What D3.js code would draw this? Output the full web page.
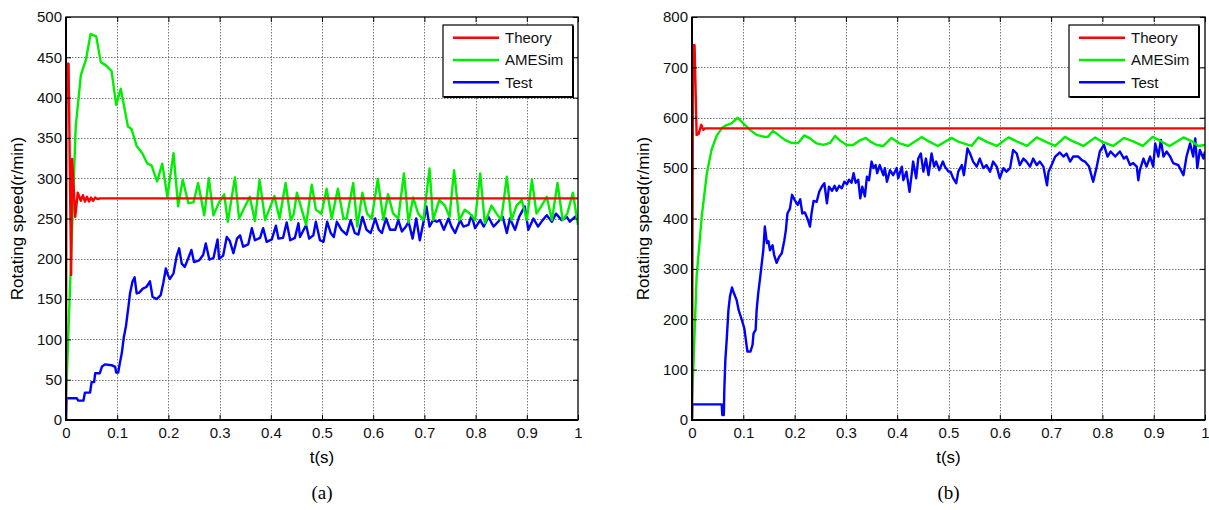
<!DOCTYPE html>
<html>
<head>
<meta charset="utf-8">
<script src="https://cdn.jsdelivr.net/npm/d3@7/dist/d3.min.js"></script>
<style>
  html, body { margin: 0; padding: 0; background: #fff; }
  svg { display: block; }
  .tick text { font-family: "Liberation Sans", Arial, sans-serif; font-size: 15px; fill: #111; }
</style>
</head>
<body>
<svg id="chart" width="1209" height="510"></svg>
<script>
// ---- data: rotating speed (r/min) against time (s) ----
const seriesNames = ["Theory", "AMESim", "Test"];
const seriesColors = ["#ff0000", "#00ee00", "#0000ff"];
const xTicks = [0, 0.1, 0.2, 0.3, 0.4, 0.5, 0.6, 0.7, 0.8, 0.9, 1];
const xTickLabels = ["0", "0.1", "0.2", "0.3", "0.4", "0.5", "0.6", "0.7", "0.8", "0.9", "1"];
const yTicksA = [0, 50, 100, 150, 200, 250, 300, 350, 400, 450, 500];
const yTicksB = [0, 100, 200, 300, 400, 500, 600, 700, 800];

// (a)
const theoryA = [[0,0],[0.001,442],[0.005,442],[0.010,180],[0.012,324],[0.018,252],[0.023,282],
  [0.029,272],[0.033,279],[0.037,271],[0.041,277],[0.045,271],[0.049,276],[0.053,272],[0.057,276],
  [0.062,274],[0.066,275],[1,275]];

const amesimA = [[0,25],[0.019,364],[0.029,428],[0.039,447],[0.048,479],[0.059,476],[0.068,444],
  [0.078,440],[0.089,433],[0.098,391],[0.107,411],[0.121,364],[0.128,361],[0.138,340],[0.149,331],
  [0.159,318],[0.167,316],[0.178,296],[0.188,318],[0.198,277],[0.210,331],[0.219,265],[0.228,298],
  [0.239,269],[0.249,270],[0.258,294],[0.270,254],[0.279,300],[0.288,254],[0.299,270],[0.309,280],
  [0.316,246],[0.330,301],[0.338,250],[0.359,277],[0.369,247],[0.378,298],[0.389,248],[0.407,278],
  [0.417,250],[0.429,294],[0.439,248],[0.445,256],[0.451,282],[0.469,242],[0.480,292],[0.488,261],
  [0.499,256],[0.509,287],[0.519,250],[0.531,287],[0.542,250],[0.548,250],[0.561,294],[0.569,240],
  [0.579,282],[0.588,256],[0.597,250],[0.609,299],[0.620,248],[0.629,280],[0.639,256],[0.649,250],
  [0.660,306],[0.669,245],[0.678,276],[0.688,256],[0.698,248],[0.710,312],[0.717,248],[0.729,273],
  [0.740,266],[0.749,252],[0.758,310],[0.768,248],[0.779,261],[0.789,256],[0.799,248],[0.809,306],
  [0.818,244],[0.831,266],[0.841,256],[0.850,248],[0.861,302],[0.870,248],[0.880,266],[0.890,273],
  [0.900,248],[0.910,298],[0.919,256],[0.929,266],[0.939,277],[0.949,248],[0.960,294],[0.970,248],
  [0.979,256],[0.990,282],[1.0,242]];

const testA = [[0,0],[0.001,27],[0.021,27],[0.024,24],[0.034,24],[0.037,34],[0.047,34],[0.050,47],
  [0.055,47],[0.057,58],[0.066,58],[0.070,66],[0.076,69],[0.089,68],[0.096,66],[0.098,59],[0.102,59],
  [0.105,70],[0.109,83],[0.113,103],[0.117,116],[0.122,141],[0.125,157],[0.130,172],[0.134,177],
  [0.138,157],[0.143,158],[0.150,163],[0.157,165],[0.164,172],[0.169,153],[0.177,150],[0.185,155],
  [0.190,170],[0.195,188],[0.199,180],[0.203,175],[0.210,182],[0.216,203],[0.221,213],[0.226,194],
  [0.232,190],[0.239,201],[0.245,211],[0.250,196],[0.260,198],[0.268,205],[0.273,219],[0.280,199],
  [0.288,201],[0.296,224],[0.299,200],[0.307,204],[0.314,227],[0.320,222],[0.327,207],[0.334,225],
  [0.340,229],[0.346,215],[0.356,218],[0.363,238],[0.369,223],[0.379,226],[0.385,238],[0.392,221],
  [0.402,224],[0.410,241],[0.415,225],[0.424,226],[0.431,245],[0.438,223],[0.447,226],[0.454,244],
  [0.457,227],[0.469,242],[0.475,225],[0.483,229],[0.488,246],[0.496,223],[0.503,221],[0.510,246],
  [0.517,232],[0.523,227],[0.529,246],[0.538,236],[0.548,230],[0.556,248],[0.564,232],[0.571,230],
  [0.579,252],[0.587,236],[0.595,232],[0.604,250],[0.611,236],[0.617,232],[0.625,250],[0.633,236],
  [0.643,236],[0.649,248],[0.656,234],[0.664,240],[0.669,246],[0.677,225],[0.684,250],[0.691,223],
  [0.699,248],[0.704,265],[0.710,240],[0.717,248],[0.724,246],[0.730,248],[0.738,236],[0.747,250],
  [0.753,240],[0.760,232],[0.770,248],[0.776,240],[0.786,242],[0.792,254],[0.799,238],[0.809,248],
  [0.816,240],[0.825,252],[0.835,240],[0.844,246],[0.853,252],[0.861,232],[0.867,250],[0.877,236],
  [0.885,252],[0.896,265],[0.903,236],[0.913,250],[0.922,240],[0.931,248],[0.939,254],[0.949,246],
  [0.957,256],[0.968,248],[0.978,252],[0.984,246],[0.994,252],[1.0,254]];

// (b)
const theoryB = [[0,0],[0.002,744],[0.005,744],[0.009,566],[0.013,568],[0.018,586],[0.022,576],
  [0.026,579],[1,579]];

const amesimB = [[0,33],[0.009,285],[0.019,404],[0.029,490],[0.038,536],[0.048,564],[0.058,579],
  [0.068,586],[0.077,589],[0.089,600],[0.100,589],[0.113,576],[0.126,566],[0.142,562],[0.148,562],
  [0.158,574],[0.168,566],[0.181,556],[0.194,550],[0.207,550],[0.219,565],[0.230,559],[0.243,549],
  [0.256,546],[0.269,550],[0.279,564],[0.288,555],[0.302,546],[0.314,546],[0.327,555],[0.339,560],
  [0.347,553],[0.360,546],[0.373,544],[0.389,560],[0.405,549],[0.421,544],[0.448,562],[0.460,554],
  [0.479,544],[0.506,560],[0.520,552],[0.545,544],[0.558,561],[0.575,552],[0.594,544],[0.617,561],
  [0.633,553],[0.653,544],[0.672,561],[0.690,552],[0.708,544],[0.727,562],[0.741,554],[0.763,544],
  [0.786,561],[0.800,552],[0.821,544],[0.842,560],[0.860,553],[0.879,544],[0.898,562],[0.915,553],
  [0.931,544],[0.958,561],[0.975,553],[0.987,544],[1.0,546]];

const testB = [[0,3],[0.0005,31],[0.058,31],[0.059,10],[0.062,10],[0.063,60],[0.065,119],[0.068,165],
  [0.071,218],[0.074,245],[0.078,263],[0.082,251],[0.087,238],[0.091,218],[0.097,199],[0.102,182],
  [0.105,159],[0.108,136],[0.114,136],[0.118,149],[0.120,172],[0.124,179],[0.126,218],[0.129,251],
  [0.133,284],[0.136,311],[0.139,337],[0.142,384],[0.146,351],[0.149,355],[0.152,337],[0.157,347],
  [0.160,328],[0.165,312],[0.170,324],[0.175,331],[0.180,357],[0.183,377],[0.186,410],[0.191,420],
  [0.195,447],[0.200,437],[0.206,427],[0.211,438],[0.215,410],[0.220,412],[0.225,400],[0.230,384],
  [0.233,410],[0.237,435],[0.243,433],[0.248,453],[0.253,463],[0.258,470],[0.263,430],[0.267,463],
  [0.273,455],[0.278,465],[0.282,455],[0.287,465],[0.292,460],[0.297,473],[0.302,468],[0.306,477],
  [0.311,471],[0.315,490],[0.319,471],[0.324,477],[0.328,440],[0.332,463],[0.337,444],[0.341,483],
  [0.345,476],[0.350,513],[0.354,500],[0.358,506],[0.361,490],[0.366,506],[0.373,486],[0.376,500],
  [0.380,473],[0.386,496],[0.392,486],[0.399,500],[0.402,480],[0.409,503],[0.412,476],[0.418,493],
  [0.424,453],[0.428,486],[0.431,513],[0.437,480],[0.441,519],[0.446,529],[0.451,493],[0.456,519],
  [0.461,486],[0.467,529],[0.472,503],[0.476,513],[0.482,496],[0.489,513],[0.493,503],[0.500,493],
  [0.504,493],[0.509,480],[0.515,470],[0.519,493],[0.526,506],[0.530,486],[0.537,539],[0.542,529],
  [0.548,513],[0.555,503],[0.561,519],[0.568,500],[0.574,506],[0.581,493],[0.587,513],[0.594,503],
  [0.600,480],[0.607,500],[0.613,493],[0.620,500],[0.626,536],[0.633,529],[0.639,506],[0.646,519],
  [0.652,513],[0.659,503],[0.665,519],[0.672,506],[0.678,513],[0.685,503],[0.692,466],[0.695,493],
  [0.701,506],[0.708,523],[0.717,531],[0.724,523],[0.730,529],[0.737,513],[0.743,523],[0.753,523],
  [0.760,516],[0.766,513],[0.774,503],[0.782,473],[0.789,503],[0.795,533],[0.803,546],[0.810,523],
  [0.816,533],[0.825,523],[0.834,533],[0.842,519],[0.847,523],[0.854,506],[0.860,510],[0.867,503],
  [0.870,476],[0.873,496],[0.880,519],[0.886,503],[0.893,523],[0.899,503],[0.903,549],[0.909,523],
  [0.914,556],[0.919,523],[0.925,533],[0.932,523],[0.938,510],[0.948,506],[0.958,486],[0.964,523],
  [0.971,549],[0.977,523],[0.981,559],[0.985,500],[0.990,536],[0.997,519],[1.0,533]];

// ---- layout of the two panels ----
const panels = [
  { key: "a", left: 66, top: 17, width: 512, height: 403, yMax: 500, yTicks: yTicksA,
    series: [theoryA, amesimA, testA], legend: { x: 443, y: 25, w: 130, h: 72 }, caption: "(a)" },
  { key: "b", left: 692, top: 17, width: 513, height: 403, yMax: 800, yTicks: yTicksB,
    series: [theoryB, amesimB, testB], legend: { x: 1069, y: 25, w: 130, h: 72 }, caption: "(b)" }
];

const svg = d3.select("#chart");
const sans = "'Liberation Sans', Arial, sans-serif";

panels.forEach(p => {
  const x = d3.scaleLinear().domain([0, 1]).range([0, p.width]);
  const y = d3.scaleLinear().domain([0, p.yMax]).range([p.height, 0]);
  const g = svg.append("g").attr("transform", `translate(${p.left},${p.top})`);

  g.append("defs").append("clipPath").attr("id", "clip-" + p.key)
    .append("rect").attr("x", 0).attr("y", -2).attr("width", p.width).attr("height", p.height + 2);

  // dotted grid
  const grid = g.append("g").attr("stroke", "#555").attr("stroke-width", 0.8)
    .attr("stroke-dasharray", "1.5,1.5");
  grid.selectAll(".gx").data(xTicks.slice(1, -1)).join("line")
    .attr("x1", d => Math.round(x(d)) + 0.5).attr("x2", d => Math.round(x(d)) + 0.5)
    .attr("y1", 0).attr("y2", p.height);
  grid.selectAll(".gy").data(p.yTicks.slice(1, -1)).join("line")
    .attr("y1", d => Math.round(y(d)) + 0.5).attr("y2", d => Math.round(y(d)) + 0.5)
    .attr("x1", 0).attr("x2", p.width);

  // series
  const line = d3.line().x(d => x(d[0])).y(d => y(d[1]));
  const plot = g.append("g").attr("clip-path", `url(#clip-${p.key})`);
  // draw Test first, then AMESim, then Theory on top
  [2, 1, 0].forEach(i => {
    plot.append("path").datum(p.series[i])
      .attr("fill", "none").attr("stroke", seriesColors[i])
      .attr("stroke-width", 2.4).attr("stroke-linejoin", "round")
      .attr("d", line);
  });

  // axes with inward ticks on all four sides
  const fmt = (d) => xTickLabels[xTicks.indexOf(d)];
  const bottom = g.append("g").attr("transform", `translate(0,${p.height})`)
    .call(d3.axisBottom(x).tickValues(xTicks).tickFormat(fmt).tickSize(-5).tickPadding(7));
  const left = g.append("g")
    .call(d3.axisLeft(y).tickValues(p.yTicks).tickFormat(d3.format("d")).tickSize(-5).tickPadding(4));
  const top = g.append("g")
    .call(d3.axisTop(x).tickValues(xTicks).tickFormat("").tickSize(-5));
  const right = g.append("g").attr("transform", `translate(${p.width},0)`)
    .call(d3.axisRight(y).tickValues(p.yTicks).tickFormat("").tickSize(-5));
  [bottom, left, top, right].forEach(a => {
    a.select(".domain").remove();
    a.selectAll(".tick line").attr("stroke", "#000").attr("stroke-width", 1);
  });
  bottom.selectAll("text").style("font-family", sans).style("font-size", "15px");
  left.selectAll("text").style("font-family", sans).style("font-size", "15px");

  // frame
  g.append("rect").attr("x", 0).attr("y", 0).attr("width", p.width).attr("height", p.height)
    .attr("fill", "none").attr("stroke", "#000").attr("stroke-width", 1.3);
  g.append("path").attr("d", `M0,0V${p.height}H${p.width}`)
    .attr("fill", "none").attr("stroke", "#000").attr("stroke-width", 2);

  // axis titles
  g.append("text").attr("x", p.width / 2).attr("y", 446)
    .attr("text-anchor", "middle").style("font-family", sans).style("font-size", "17px")
    .text("t(s)");
  g.append("text")
    .attr("transform", `translate(-43,${p.height / 2}) rotate(-90)`)
    .attr("text-anchor", "middle").style("font-family", sans).style("font-size", "17px")
    .text("Rotating speed(r/min)");

  // caption under the panel
  g.append("text").attr("x", p.width / 2).attr("y", 482)
    .attr("text-anchor", "middle").style("font-family", "'Liberation Serif', 'Times New Roman', serif")
    .style("font-size", "19px").text(p.caption);

  // legend
  const L = p.legend;
  const lg = svg.append("g").attr("transform", `translate(${L.x},${L.y})`);
  lg.append("rect").attr("width", L.w).attr("height", L.h).attr("fill", "#fff")
    .attr("stroke", "#000").attr("stroke-width", 1.2);
  lg.append("path").attr("d", `M${L.w},1V${L.h}H1`).attr("fill", "none")
    .attr("stroke", "#000").attr("stroke-width", 2);
  seriesNames.forEach((name, i) => {
    const yy = 12.7 + i * 22.3;
    lg.append("line").attr("x1", 10).attr("x2", 56).attr("y1", yy).attr("y2", yy)
      .attr("stroke", seriesColors[i]).attr("stroke-width", 2.4);
    lg.append("text").attr("x", 62).attr("y", yy + 5.3)
      .style("font-family", sans).style("font-size", "15px").attr("fill", "#111").text(name);
  });
});
</script>
</body>
</html>
